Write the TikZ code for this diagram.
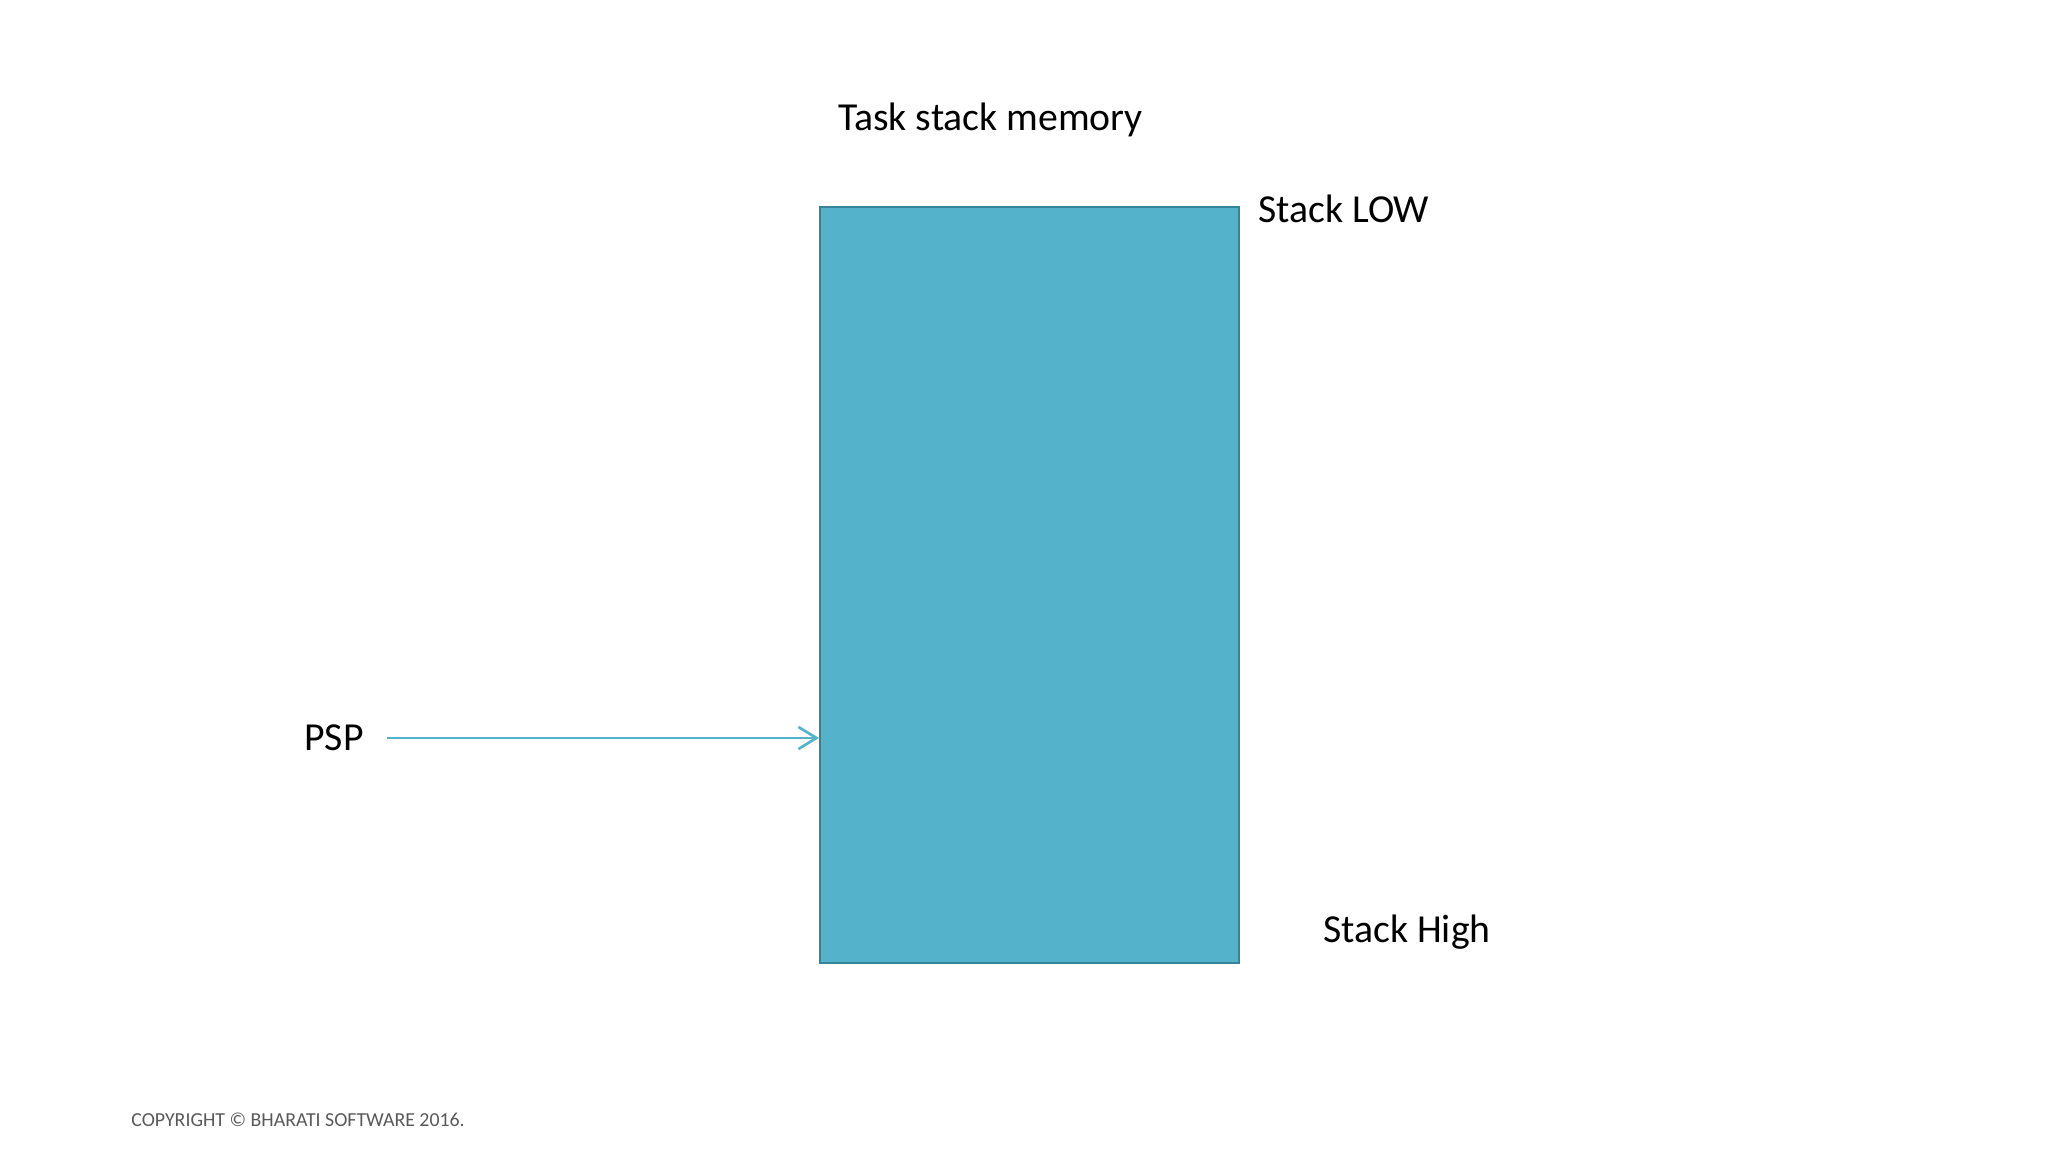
\documentclass[tikz,border=0pt]{standalone}
\usepackage{fontspec}
\setmainfont{Carlito}
\usetikzlibrary{arrows.meta,positioning}
\definecolor{stackfill}{RGB}{84,178,203}
\definecolor{stackedge}{RGB}{55,132,154}
\definecolor{copygray}{RGB}{89,89,89}

\begin{document}
\begin{tikzpicture}[
    lbl/.style={font=\fontsize{22.6}{28}\selectfont, text depth=0pt, inner sep=0},
    pointer/.style={-{Straight Barb[length=0.36cm, width=0.44cm, line width=1.5pt]}, line width=1.5pt, draw=stackfill}
  ]
    \useasboundingbox (0,0) rectangle (40.96,23.04);

    % Stack block
    \node[draw=stackedge, line width=1.1pt, fill=stackfill, anchor=south west, inner sep=0,
          minimum width=8.38cm, minimum height=15.12cm] (stack) at (16.38,3.76) {};

    % Labels
    \node[lbl, anchor=base] (title) at (19.81,20.42) {Task stack memory};
    \node[lbl, anchor=base west] (low) at (25.16,18.58) {Stack LOW};
    \node[lbl, anchor=base west] (high) at (26.46,4.18) {Stack High};

    % Stack pointer
    \node[lbl, anchor=west, text height=14.6pt] (psp) at (6.08,8.28) {PSP};
    \draw[pointer] ([xshift=0.46cm]psp.east) -- (psp.east -| stack.west);

    % Footer
    \node[anchor=base west, inner sep=0, text=copygray, font=\fontsize{11.3}{13}\selectfont] (copy) at (2.62,0.5) {COPYRIGHT © BHARATI SOFTWARE 2016.};
\end{tikzpicture}
\end{document}
